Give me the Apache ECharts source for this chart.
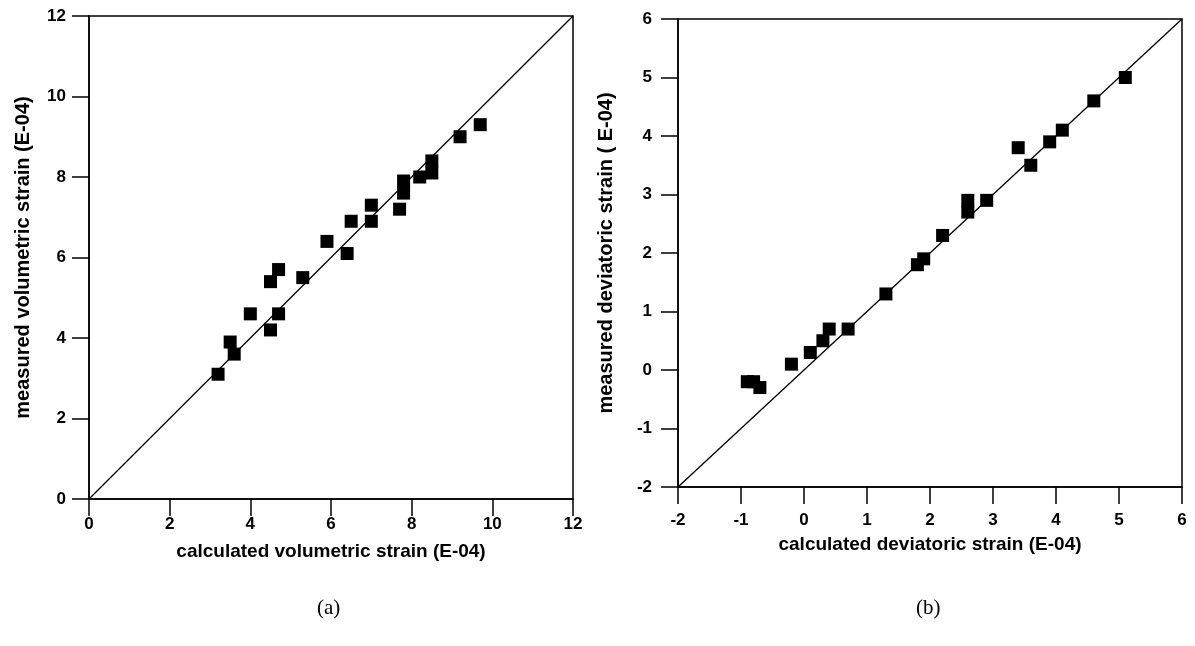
<!DOCTYPE html>
<html>
<head>
<meta charset="utf-8">
<script src="https://cdn.jsdelivr.net/npm/echarts@6/dist/echarts.min.js"></script>
<style>
html,body{margin:0;padding:0;background:#fff;}
#c{width:1195px;height:646px;}
</style>
</head>
<body>
<div id="c"></div>
<script>
// (a) volumetric strain: [calculated, measured]
const volumetricPoints = [
  [3.2,3.1],[3.5,3.9],[3.6,3.6],[4.0,4.6],[4.5,4.2],[4.5,5.4],[4.7,5.7],[4.7,4.6],
  [5.3,5.5],[5.9,6.4],[6.4,6.1],[6.5,6.9],[7.0,7.3],[7.0,6.9],[7.7,7.2],[7.8,7.6],
  [7.8,7.9],[8.2,8.0],[8.5,8.1],[8.5,8.4],[9.2,9.0],[9.7,9.3]
];
// (b) deviatoric strain: [calculated, measured]
const deviatoricPoints = [
  [-0.9,-0.2],[-0.8,-0.2],[-0.7,-0.3],[-0.2,0.1],[0.1,0.3],[0.3,0.5],[0.4,0.7],[0.7,0.7],
  [1.3,1.3],[1.8,1.8],[1.9,1.9],[2.2,2.3],[2.6,2.9],[2.6,2.7],[2.9,2.9],[3.4,3.8],
  [3.6,3.5],[3.9,3.9],[4.1,4.1],[4.6,4.6],[5.1,5.0]
];
const volumetricLine = [[0,0],[12,12]];
const deviatoricLine = [[-2,-2],[6,6]];
const volRange = {min:0, max:12, interval:2};
const devRange = {min:-2, max:6, interval:1};
const labels = {
  volX: 'calculated volumetric strain (E-04)',
  volY: 'measured volumetric strain (E-04)',
  devX: 'calculated deviatoric strain (E-04)',
  devY: 'measured deviatoric strain ( E-04)',
  a: '(a)', b: '(b)'
};

const FONT = '"Liberation Sans", Arial, sans-serif';
function ax(extra, margin, nameSize){
  return Object.assign({
    type: 'value',
    axisLine: {show: true, onZero: false, lineStyle: {color: '#000', width: 1.5}},
    axisTick: {show: true, inside: false, length: 17, lineStyle: {color: '#000', width: 1.5}},
    splitLine: {show: false},
    axisLabel: {color: '#000', fontFamily: FONT, fontWeight: 'bold', fontSize: 17, margin: margin},
    nameLocation: 'middle',
    nameTextStyle: {color: '#000', fontFamily: FONT, fontWeight: 'bold', fontSize: nameSize}
  }, extra);
}

const chart = echarts.init(document.getElementById('c'), null, {renderer: 'canvas'});
chart.setOption({
  backgroundColor: '#fff',
  animation: false,
  grid: [
    {left: 89, right: 622, top: 16, bottom: 147, show: true, borderColor: '#000', borderWidth: 1.5, backgroundColor: 'transparent'},
    {left: 678, right: 13, top: 19, bottom: 159, show: true, borderColor: '#000', borderWidth: 1.5, backgroundColor: 'transparent'}
  ],
  xAxis: [
    ax({gridIndex: 0, min: volRange.min, max: volRange.max, interval: volRange.interval, name: labels.volX, nameGap: 43}, 17, 19),
    ax({gridIndex: 1, min: devRange.min, max: devRange.max, interval: devRange.interval, name: labels.devX, nameGap: 48}, 25, 19)
  ],
  yAxis: [
    ax({gridIndex: 0, min: volRange.min, max: volRange.max, interval: volRange.interval, name: labels.volY, nameGap: 56}, 23, 20),
    ax({gridIndex: 1, min: devRange.min, max: devRange.max, interval: devRange.interval, name: labels.devY, nameGap: 62}, 26, 20)
  ],
  graphic: [
    {type: 'text', left: 317, top: 598, style: {text: labels.a, font: '21px "Liberation Serif", "Times New Roman", serif', fill: '#000'}},
    {type: 'text', left: 916, top: 598, style: {text: labels.b, font: '21px "Liberation Serif", "Times New Roman", serif', fill: '#000'}}
  ],
  series: [
    {type: 'line', xAxisIndex: 0, yAxisIndex: 0, data: volumetricLine, symbol: 'none', lineStyle: {color: '#000', width: 1.3}, z: 2},
    {type: 'scatter', xAxisIndex: 0, yAxisIndex: 0, data: volumetricPoints, symbol: 'rect', symbolSize: 13, itemStyle: {color: '#000', opacity: 1}, z: 3},
    {type: 'line', xAxisIndex: 1, yAxisIndex: 1, data: deviatoricLine, symbol: 'none', lineStyle: {color: '#000', width: 1.3}, z: 2},
    {type: 'scatter', xAxisIndex: 1, yAxisIndex: 1, data: deviatoricPoints, symbol: 'rect', symbolSize: 13, itemStyle: {color: '#000', opacity: 1}, z: 3}
  ]
});
</script>
</body>
</html>
